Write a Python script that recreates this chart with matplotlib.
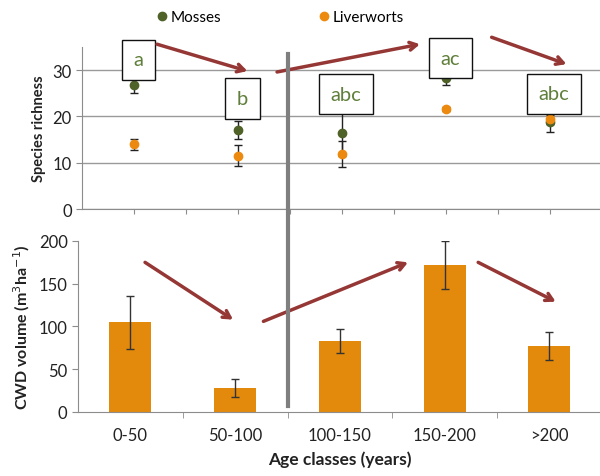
import numpy as np
import matplotlib; matplotlib.use("Agg"); import matplotlib.pyplot as plt
import matplotlib.transforms as mtransforms
from matplotlib.lines import Line2D

plt.rcParams['font.family'] = ['Lato', 'DejaVu Sans']

AGE = ["0-50", "50-100", "100-150", "150-200", ">200"]
MOSS = [26.8, 17.1, 16.5, 28.4, 18.8]
MOSS_ERR = [1.7, 2.0, 5.0, 1.6, 2.1]
LIVER = [14.0, 11.5, 11.8, 21.6, 19.4]
LIVER_ERR = [1.2, 2.3, 2.8, 0.5, 1.0]
CWD = [105, 28, 83, 172, 77]
CWD_ERR = [31, 11, 14, 28, 16]
GROUPS = ["a", "b", "abc", "ac", "abc"]
GROUP_Y = [32.2, 23.9, 24.8, 32.6, 24.9]

GREEN = "#4f6228"; ORANGE = "#ec8a10"; BAR = "#e3890b"; ARROW = "#953735"; AXC = "#8c8c8c"; TXT = "#222222"

fig = plt.figure(figsize=(6, 4.77), dpi=100)
ax1 = fig.add_axes([0.137, 0.5597, 0.866, 0.3397])
ax2 = fig.add_axes([0.130, 0.1342, 0.873, 0.3585])
x = np.arange(len(AGE))

# top: species richness
ax1.errorbar(x, MOSS, yerr=MOSS_ERR, fmt="o", color=GREEN, ms=6, ecolor="#222222", elinewidth=1, capsize=3, zorder=3)
ax1.errorbar(x, LIVER, yerr=LIVER_ERR, fmt="o", color=ORANGE, ms=6, ecolor="#222222", elinewidth=1, capsize=3, zorder=3)
ax1.set_xlim(-0.5, 4.5); ax1.set_ylim(0, 35)
ax1.set_yticks([0, 10, 20, 30]); ax1.set_xticks(np.arange(0, 4.01, 0.5)); ax1.set_xticklabels([])
ax1.yaxis.grid(True, color="#9a9a9a", lw=1); ax1.set_axisbelow(True)
ax1.set_ylabel("Species richness", fontsize=10.5, fontweight="bold", color=TXT, labelpad=5)
for i, g in enumerate(GROUPS):
    ax1.text(x[i] + 0.04, GROUP_Y[i], g, fontsize=14.5, color="#5f7f3a", ha="center", va="center", zorder=5,
             bbox=dict(boxstyle="square,pad=0.58", fc="white", ec="#111111", lw=1))

# bottom: CWD volume
ax2.bar(x, CWD, width=0.4, color=BAR, zorder=2)
ax2.errorbar(x, CWD, yerr=CWD_ERR, fmt="none", ecolor="#333333", elinewidth=1, capsize=3, zorder=3)
ax2.set_xlim(-0.5, 4.5); ax2.set_ylim(0, 200)
ax2.set_yticks([0, 50, 100, 150, 200])
ax2.set_xticks(x); ax2.set_xticklabels(AGE)
ax2.set_xticks(np.arange(0.5, 4, 1), minor=True)
ax2.tick_params(axis="x", which="major", length=0, pad=11)
ax2.tick_params(axis="x", which="minor", length=4, color=AXC)
ax2.set_ylabel("CWD volume (m$^3$ha$^{-1}$)", fontsize=11.5, fontweight="bold", color=TXT, labelpad=5)
ax2.set_xlabel("Age classes (years)", fontsize=12.5, fontweight="bold", color=TXT, labelpad=5)

for ax in (ax1, ax2):
    for s in ("top", "right"): ax.spines[s].set_visible(False)
    for s in ("left", "bottom"): ax.spines[s].set_color(AXC)
    ax.tick_params(axis="y", length=4, color=AXC, labelsize=12, labelcolor=TXT)
    ax.tick_params(axis="x", labelsize=12, labelcolor=TXT, color=AXC)

# trend arrows
arrow_kw = dict(arrowstyle="->,head_length=0.5,head_width=0.28", color=ARROW, lw=2.5, shrinkA=0, shrinkB=0)
for (x0, y0), (x1, y1) in [((0.22, 35.6), (1.09, 29.8)), ((1.375, 29.6), (2.75, 35.6)), ((3.44, 37.1), (4.16, 31.3))]:
    ax1.annotate("", xy=(x1, y1), xytext=(x0, y0), arrowprops=arrow_kw, annotation_clip=False, zorder=6)
for (x0, y0), (x1, y1) in [((0.14, 175), (0.98, 108)), ((1.27, 106), (2.65, 175)), ((3.32, 175), (4.06, 129))]:
    ax2.annotate("", xy=(x1, y1), xytext=(x0, y0), arrowprops=arrow_kw, annotation_clip=False, zorder=6)

# divider between 50-100 and 100-150
tr = mtransforms.blended_transform_factory(ax2.transData, fig.transFigure)
fig.add_artist(Line2D([1.5, 1.5], [1 - 407 / 477, 1 - 55 / 477], transform=tr, color="#7f7f7f", lw=3, zorder=4))

handles = [Line2D([], [], ls="none", marker="o", color=GREEN, ms=6, label="Mosses"),
           Line2D([], [], ls="none", marker="o", color=ORANGE, ms=6, label="Liverworts")]
fig.legend(handles=handles, loc="center", bbox_to_anchor=(0.465, 1 - 18 / 477), ncol=2, frameon=False, fontsize=11,
           columnspacing=6.2, handletextpad=0.1, handlelength=1)
fig.savefig("out.png", dpi=100)
